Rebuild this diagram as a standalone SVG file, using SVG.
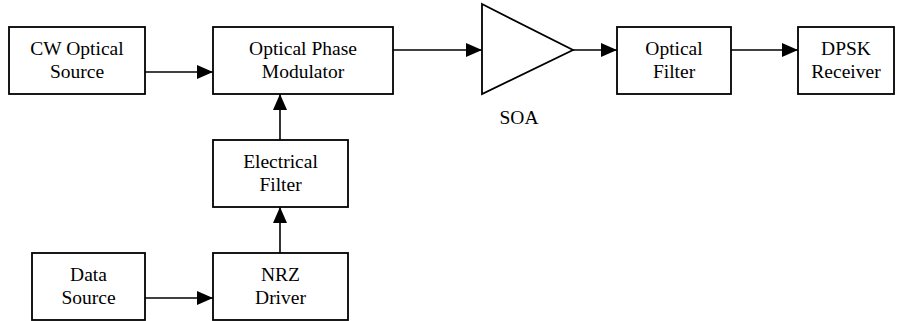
<svg xmlns="http://www.w3.org/2000/svg" width="904" height="321" viewBox="0 0 904 321">
<style>
.box{fill:#fff;stroke:#000;stroke-width:1.8}
.t{font-size:19.5px;fill:#000;text-anchor:middle}
.c{stroke:#000;stroke-width:1.6;fill:none}
</style>
<defs>
<marker id="ah" viewBox="0 0 16 14" refX="16" refY="7" markerWidth="16" markerHeight="14" markerUnits="userSpaceOnUse" orient="auto">
<path d="M0,0 L16,7 L0,14 Z" fill="#000"/>
</marker>
</defs>
<g id="connectors">
<line class="c" x1="145" y1="72" x2="213" y2="72" marker-end="url(#ah)"/>
<line class="c" x1="393" y1="50" x2="482" y2="50" marker-end="url(#ah)"/>
<line class="c" x1="573" y1="50" x2="617" y2="50" marker-end="url(#ah)"/>
<line class="c" x1="731" y1="50" x2="798" y2="50" marker-end="url(#ah)"/>
<line class="c" x1="280" y1="140" x2="280" y2="94" marker-end="url(#ah)"/>
<line class="c" x1="280" y1="253" x2="280" y2="207" marker-end="url(#ah)"/>
<line class="c" x1="145" y1="298" x2="213" y2="298" marker-end="url(#ah)"/>
</g>
<g font-family="Liberation Serif, Times New Roman, serif">
<g id="cw">
<rect class="box" x="9" y="27" width="136" height="67"/>
<text class="t" x="77" y="55">CW Optical</text>
<text class="t" x="77" y="78">Source</text>
</g>
<g id="opm">
<rect class="box" x="213" y="27" width="180" height="67"/>
<text class="t" x="303" y="55">Optical Phase</text>
<text class="t" x="303" y="78">Modulator</text>
</g>
<g id="soa">
<polygon class="box" points="482,4 573,50 482,94"/>
<text class="t" x="519" y="124">SOA</text>
</g>
<g id="of">
<rect class="box" x="617" y="27" width="114" height="67"/>
<text class="t" x="674" y="55">Optical</text>
<text class="t" x="674" y="78">Filter</text>
</g>
<g id="dpsk">
<rect class="box" x="798" y="27" width="96" height="67"/>
<text class="t" x="846" y="55">DPSK</text>
<text class="t" x="846" y="78">Receiver</text>
</g>
<g id="ef">
<rect class="box" x="213" y="140" width="135" height="67"/>
<text class="t" x="280.5" y="168">Electrical</text>
<text class="t" x="280.5" y="191">Filter</text>
</g>
<g id="nrz">
<rect class="box" x="213" y="253" width="135" height="67"/>
<text class="t" x="280.5" y="281">NRZ</text>
<text class="t" x="280.5" y="304">Driver</text>
</g>
<g id="ds">
<rect class="box" x="32" y="253" width="113" height="67"/>
<text class="t" x="88.5" y="281">Data</text>
<text class="t" x="88.5" y="304">Source</text>
</g>
</g>
</svg>
